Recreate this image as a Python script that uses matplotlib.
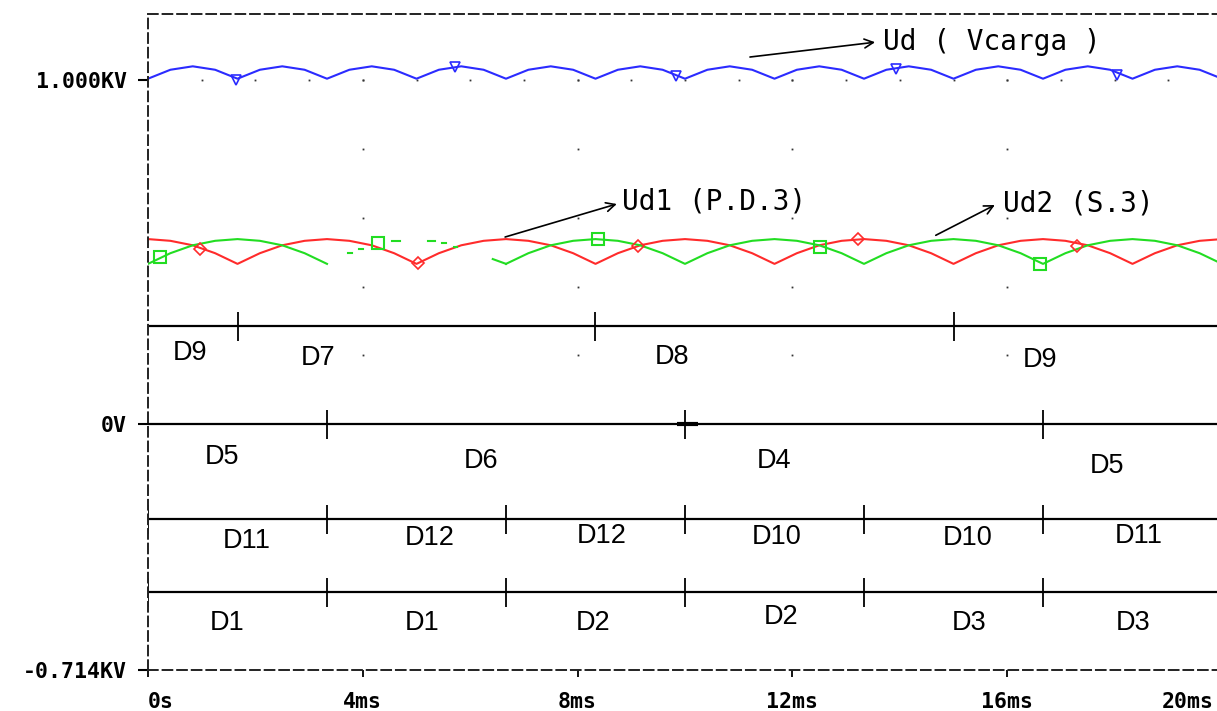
import numpy as np
import matplotlib

matplotlib.use("Agg")
import matplotlib.pyplot as plt
from matplotlib.transforms import ScaledTranslation

nan = np.nan

# time samples (ms)
t = np.linspace(0, 20, 49)

# Ud (Vcarga), volts
ud = [1004, 1030, 1040, 1030, 1004, 1030, 1040, 1030,
      1004, 1030, 1040, 1030, 1004, 1030, 1040, 1030,
      1004, 1030, 1040, 1030, 1004, 1030, 1040, 1030,
      1004, 1030, 1040, 1030, 1004, 1030, 1040, 1030,
      1004, 1030, 1040, 1030, 1004, 1030, 1040, 1030,
      1004, 1030, 1040, 1030, 1004, 1030, 1040, 1030,
      1004]

# Ud1 (P.D.3)
ud1 = [538, 533, 520, 497, 466, 497, 520, 533,
       538, 533, 520, 497, 466, 497, 520, 533,
       538, 533, 520, 497, 466, 497, 520, 533,
       538, 533, 520, 497, 466, 497, 520, 533,
       538, 533, 520, 497, 466, 497, 520, 533,
       538, 533, 520, 497, 466, 497, 520, 533,
       538]

# Ud2 (S.3) - trace drops out between ~3.4 and ~6.4 ms
ud2 = [466, 497, 520, 533, 538, 533, 520, 497,
       466, nan, nan, nan, nan, nan, nan, nan,
       466, 497, 520, 533, 538, 533, 520, 497,
       466, 497, 520, 533, 538, 533, 520, 497,
       466, 497, 520, 533, 538, 533, 520, 497,
       466, 497, 520, 533, 538, 533, 520, 497,
       466]

# visible bits of Ud2 inside the gap
frag_t0 = [3.73, 3.93, 4.54, 5.21, 5.47, 5.70, 6.42]
frag_t1 = [3.80, 4.00, 4.69, 5.34, 5.55, 5.75, 6.667]
frag_v0 = [497, 509, 532, 532, 526, 515, 480]
frag_v1 = [497, 509, 532, 532, 526, 515, 466]

# trace markers
ud_mk_t = [1.64, 5.72, 9.83, 13.93, 18.04]
ud_mk_v = [1000, 1038, 1012, 1032, 1015]
ud1_mk_t = [0.97, 5.03, 9.12, 13.22, 17.30]
ud1_mk_v = [509, 468, 517, 538, 517]
ud2_mk_t = [0.22, 4.28, 8.38, 12.51, 16.61]
ud2_mk_v = [485, 526, 538, 514, 465]

# diode conduction bars: level (V) and commutation instants (ms)
bar_levels = [285, 0, -276, -488]
bar_ticks = [
    [1.667, 8.333, 15.0],
    [3.333, 10.0, 16.667],
    [0, 3.333, 6.667, 10.0, 13.333, 16.667, 20.0],
    [0, 3.333, 6.667, 10.0, 13.333, 16.667],
]

d_text = ["D9", "D7", "D8", "D9",
          "D5", "D6", "D4", "D5",
          "D11", "D12", "D12", "D10", "D10", "D11",
          "D1", "D1", "D2", "D2", "D3", "D3"]
d_t = [0.78, 3.17, 9.76, 16.61,
       1.38, 6.20, 11.66, 17.86,
       1.84, 5.25, 8.45, 11.71, 15.27, 18.45,
       1.47, 5.10, 8.28, 11.79, 15.29, 18.34]
d_v = [206, 192, 195, 186,
       -96, -108, -108, -122,
       -340, -331, -326, -328, -331, -326,
       -578, -578, -576, -561, -576, -576]

x_ticks = [0, 4, 8, 12, 16, 20]
x_labels = ["0s", "4ms", "8ms", "12ms", "16ms", "20ms"]
y_ticks = [1000, 0, -714]
y_labels = ["1.000KV", "0V", "-0.714KV"]

BLUE = "#2b2bff"
RED = "#ff2b2b"
GREEN = "#22dd22"
MONO = "DejaVu Sans Mono"

fig = plt.figure(figsize=(12.17, 7.11), dpi=100)
ax = fig.add_axes([148 / 1217, 41 / 711, 1074 / 1217, 656 / 711])
ax.set_xlim(0, 20)
ax.set_ylim(-714, 1192)

# dotted grid (upper half only, as in the probe window)
gx, gy = np.meshgrid([4, 8, 12, 16], [1000, 800, 600, 400, 200])
ax.plot(gx.ravel(), gy.ravel(), ls="none", marker="s", ms=1.3, color="#333333", mew=0)
ax.plot(np.arange(1, 20), np.full(19, 1000), ls="none", marker="s", ms=1.3,
        color="#333333", mew=0)

# traces
ax.plot(t, ud, color=BLUE, lw=1.5)
ax.plot(t, ud1, color=RED, lw=1.5)
ax.plot(t, ud2, color=GREEN, lw=1.5)
for a, b, va, vb in zip(frag_t0, frag_t1, frag_v0, frag_v1):
    ax.plot([a, b], [va, vb], color=GREEN, lw=1.5)

ax.plot(ud_mk_t, ud_mk_v, ls="none", marker="v", ms=7, mfc="none", mec=BLUE, mew=1.2)
ax.plot(ud1_mk_t, ud1_mk_v, ls="none", marker="D", ms=6.5, mfc="none", mec=RED, mew=1.2)
ax.plot(ud2_mk_t, ud2_mk_v, ls="none", marker="s", ms=8, mfc="none", mec=GREEN, mew=1.5)

# conduction bars
for lev, ticks in zip(bar_levels, bar_ticks):
    ax.axhline(lev, color="black", lw=1.6)
    ax.vlines(ticks, lev - 42, lev + 42, color="black", lw=1.3)
ax.hlines(0, 9.85, 10.25, color="black", lw=3)

for s, x, y in zip(d_text, d_t, d_v):
    ax.text(x, y, s, ha="center", va="center", fontsize=19.5,
            family="Liberation Sans", color="black")

# trace labels with arrows
arrow = dict(arrowstyle="->", color="black", lw=1.2, mutation_scale=16,
             shrinkA=0, shrinkB=0)
ax.annotate("", xy=(13.54, 1110), xytext=(11.21, 1067), arrowprops=arrow)
ax.text(13.69, 1110, "Ud ( Vcarga )", family=MONO, fontsize=20, va="center")
ax.annotate("", xy=(8.73, 640), xytext=(6.65, 544), arrowprops=arrow)
ax.text(8.83, 648, "Ud1 (P.D.3)", family=MONO, fontsize=20, va="center")
ax.annotate("", xy=(15.77, 637), xytext=(14.67, 549), arrowprops=arrow)
ax.text(15.92, 642, "Ud2 (S.3)", family=MONO, fontsize=20, va="center")

# frame
for side in ("left", "top", "bottom"):
    ax.spines[side].set_linestyle((0, (5, 2.5)))
    ax.spines[side].set_linewidth(1.4)
    ax.spines[side].set_color("#222222")
ax.spines["right"].set_visible(False)

ax.set_xticks(x_ticks, x_labels)
ax.set_yticks(y_ticks, y_labels)
ax.tick_params(axis="x", direction="out", length=5, width=1.3, pad=11)
ax.tick_params(axis="y", direction="out", length=7, width=1.5, pad=8)
for lab in ax.get_xticklabels() + ax.get_yticklabels():
    lab.set_fontfamily(MONO)
    lab.set_fontweight("bold")
    lab.set_fontsize(15.5)
xl = ax.get_xticklabels()
xl[0].set_horizontalalignment("left")
xl[-1].set_horizontalalignment("right")
xl[-1].set_transform(xl[-1].get_transform()
                     + ScaledTranslation(-6 / 72, 0, fig.dpi_scale_trans))

fig.savefig("out.png", dpi=100, facecolor="white")
